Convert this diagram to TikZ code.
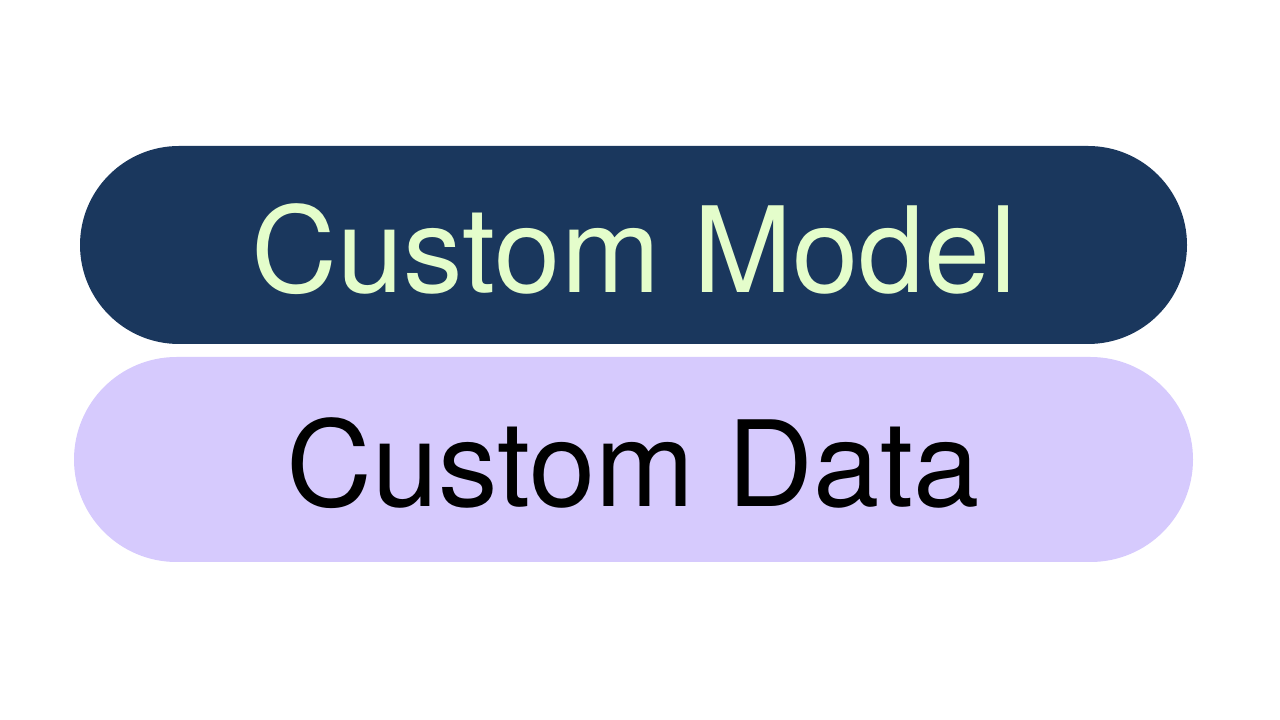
\documentclass[tikz,border=0pt]{standalone}
\usepackage{fontspec}
\setmainfont{TeX Gyre Heros}
\usetikzlibrary{shapes.misc}
\definecolor{navy}{HTML}{1A375D}
\definecolor{mint}{HTML}{E4FDCB}
\definecolor{lilac}{HTML}{D6CAFD}
\tikzset{
  pill/.style={ % image of a fully rounded bar
    rounded rectangle, inner sep=0pt, draw=none
  },
  big/.style={ % big label inside a bar
    anchor=base, inner sep=0pt,
    font=\fontsize{119}{119}\selectfont
  }
}
\begin{document}
\begin{tikzpicture}[x=1pt,y=1pt]
  \useasboundingbox (0,0) rectangle (1280,720);

  \node[pill, fill=navy, minimum width=1107pt, minimum height=198pt] (model) at (633.5,475) {};
  \node[pill, fill=lilac, minimum width=1119pt, minimum height=205pt] (data) at (633.5,260.5) {};

  \node[big, text=mint] (model_label) at (634.5,427) {Custom Model};
  \node[big, text=black] (data_label) at (633,213) {Custom Data};
\end{tikzpicture}
\end{document}
